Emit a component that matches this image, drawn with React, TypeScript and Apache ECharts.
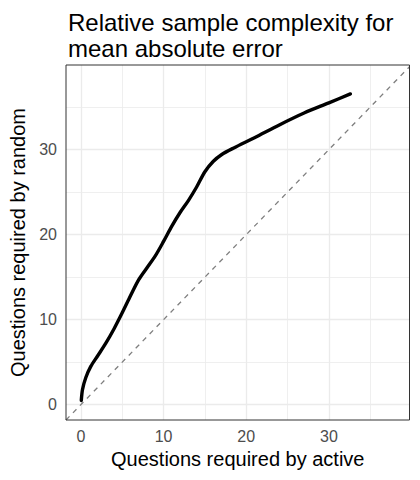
import React, { useEffect, useRef } from "react";
import * as echarts from "echarts";

const activeQuestions = [0.05, 0.2, 0.6, 1.2, 2.0, 3.0, 4.0, 5.0, 6.0, 7.0, 8.0, 9.0, 10.0, 11.0, 12.0, 13.0, 14.0, 15.0, 16.0, 17.0, 18.5, 21.0, 24.0, 27.0, 30.0, 32.6];
const randomQuestions = [0.5, 1.8, 3.2, 4.5, 5.7, 7.2, 8.9, 10.8, 12.8, 14.7, 16.1, 17.5, 19.2, 21.0, 22.6, 24.0, 25.6, 27.4, 28.6, 29.4, 30.2, 31.4, 32.9, 34.3, 35.5, 36.55];
const tickValues = [0, 10, 20, 30];
const minorValues = [5, 15, 25, 35];
const xRange = [-1.8, 39.75];
const yRange = [-1.8, 39.95];
const titleText = "Relative sample complexity for\nmean absolute error";
const xTitle = "Questions required by active";
const yTitle = "Questions required by random";

const FONT = "Liberation Sans, Arial, Helvetica, sans-serif";

export default function App() {
  const ref = useRef<HTMLDivElement>(null);
  useEffect(() => {
    if (!ref.current) return;
    const chart = echarts.init(ref.current, null, { renderer: "svg" });
    const curve = activeQuestions.map((x, i) => [x, randomQuestions[i]]);
    const gridLines: any[] = [];
    tickValues.forEach((v) => {
      gridLines.push({ xAxis: v, lineStyle: { width: 1.3 } });
      gridLines.push({ yAxis: v, lineStyle: { width: 1.3 } });
    });
    minorValues.forEach((v) => {
      gridLines.push({ xAxis: v, lineStyle: { width: 0.8 } });
      gridLines.push({ yAxis: v, lineStyle: { width: 0.8 } });
    });
    const axisCommon = {
      type: "value",
      splitLine: { show: false },
      axisLine: { show: false },
      axisTick: {
        show: true,
        length: 5,
        customValues: tickValues,
        lineStyle: { color: "#333333", width: 1 },
      },
      axisLabel: {
        customValues: tickValues,
        color: "#4D4D4D",
        fontSize: 16,
        fontFamily: FONT,
      },
      nameLocation: "middle",
      nameTextStyle: { color: "#000", fontSize: 20, fontFamily: FONT },
    };
    chart.setOption({
      animation: false,
      backgroundColor: "#fff",
      title: {
        text: titleText,
        left: 63,
        top: 4,
        textStyle: {
          fontSize: 24,
          lineHeight: 26,
          fontWeight: "normal",
          color: "#000",
          fontFamily: FONT,
        },
      },
      grid: {
        left: 65.5,
        right: 10.5,
        top: 65,
        bottom: 60,
        containLabel: false,
        show: true,
        borderColor: "#333333",
        borderWidth: 1,
        backgroundColor: "transparent",
        z: 10,
      },
      xAxis: {
        ...axisCommon,
        min: xRange[0],
        max: xRange[1],
        name: xTitle,
        nameGap: 27,
        axisLabel: { ...axisCommon.axisLabel, margin: 8 },
      },
      yAxis: {
        ...axisCommon,
        min: yRange[0],
        max: yRange[1],
        name: yTitle,
        nameGap: 38,
        axisLabel: { ...axisCommon.axisLabel, margin: 9 },
      },
      series: [
        {
          type: "line",
          data: [],
          z: 1,
          silent: true,
          markLine: {
            silent: true,
            z: 1,
            symbol: ["none", "none"],
            label: { show: false },
            lineStyle: { color: "#EBEBEB", type: "solid" },
            data: gridLines,
          },
        },
        {
          type: "line",
          data: [
            [xRange[0], xRange[0]],
            [xRange[1], xRange[1]],
          ],
          z: 2,
          symbol: "none",
          silent: true,
          lineStyle: { color: "#7F7F7F", width: 1.3, type: [5, 5] },
        },
        {
          type: "line",
          data: curve,
          z: 3,
          symbol: "none",
          smooth: 0.3,
          silent: true,
          lineStyle: { color: "#000", width: 3.4, cap: "round" },
        },
      ],
    });
    return () => chart.dispose();
  }, []);
  return (
    <div
      ref={ref}
      style={{ position: "fixed", left: 0, top: 0, width: 420, height: 480 }}
    />
  );
}
